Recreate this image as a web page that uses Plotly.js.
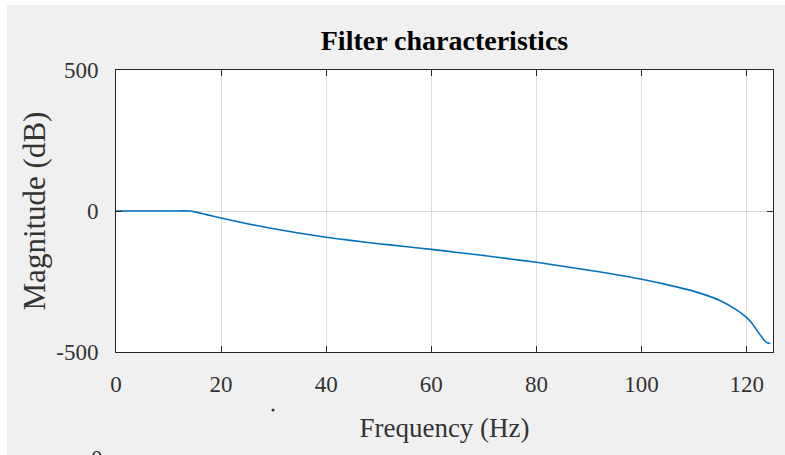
<!DOCTYPE html>
<html>
<head>
<meta charset="utf-8">
<script src="https://cdn.plot.ly/plotly-3.0.1.min.js"></script>
<style>html,body{margin:0;padding:0;background:#fff;overflow:hidden;}#chart{width:785px;height:455px;}</style>
</head>
<body>
<div id="chart"></div>
<script>
// Data
const freqHz = [0, 5, 10, 14, 15, 17, 20, 25, 30, 35, 40, 45, 50, 55, 60, 65, 70, 75, 80, 85, 90, 95, 100, 105, 110, 115, 118, 120, 121, 122, 123, 123.5, 124, 124.5];
const magnitudeDb = [0, 0, 0, 0, -3, -12, -25, -45, -63, -79, -93, -105, -116, -126, -136, -147, -158, -170, -182, -196, -210, -225, -242, -262, -285, -318, -350, -378, -398, -425, -450, -462, -468, -470];
const xTickVals = [0, 20, 40, 60, 80, 100, 120];
const xTickText = ['0', '20', '40', '60', '80', '100', '120'];
const yTickVals = [-500, 0, 500];
const yTickText = ['-500', '0', '500'];

const W = 785, H = 455, L = 116, R = 12, T = 70, B = 103;
const pw = W - L - R, ph = H - T - B;
const px = v => (v - L) / pw;      // pixel -> paper x
const py = v => (H - B - v) / ph;  // pixel -> paper y

const serif = 'Liberation Serif, Times New Roman, serif';

const trace = {
  x: freqHz, y: magnitudeDb, type: 'scatter', mode: 'lines',
  line: {color: '#0072BD', width: 1.6, shape: 'spline', smoothing: 0.6},
  hoverinfo: 'skip'
};

const axisCommon = {
  showline: true, linecolor: '#262626', linewidth: 1, mirror: 'ticks',
  ticks: 'inside', ticklen: 6, tickcolor: '#262626', tickwidth: 1,
  showgrid: true, gridcolor: '#dcdcdc', gridwidth: 1, zeroline: false,
  tickfont: {family: serif, size: 23, color: '#333333'}, fixedrange: true
};

const layout = {
  width: W, height: H,
  margin: {l: L, r: R, t: T, b: B, pad: 0},
  paper_bgcolor: '#f0f0f0', plot_bgcolor: '#ffffff',
  showlegend: false,
  title: {text: '<b>Filter characteristics</b>', font: {family: serif, size: 28, color: '#000000'},
          x: px(444.5), xref: 'paper', xanchor: 'center', y: 1 - 40 / H, yref: 'container', yanchor: 'middle'},
  xaxis: Object.assign({}, axisCommon, {
    range: [0, 125], tickmode: 'array', tickvals: xTickVals, ticktext: xTickText,
    ticklabelstandoff: 11,
    title: {text: 'Frequency (Hz)', font: {family: serif, size: 27, color: '#333333'}, standoff: 22}
  }),
  yaxis: Object.assign({}, axisCommon, {
    range: [-500, 500], tickmode: 'array', tickvals: yTickVals, ticktext: yTickText,
    ticklabelstandoff: 12,
    title: {text: 'Magnitude (dB)', font: {family: serif, size: 31, color: '#333333'}, standoff: 1}
  }),
  annotations: [
    {xref: 'paper', yref: 'paper', x: px(97), y: py(458), text: '0', showarrow: false,
     font: {family: serif, size: 23, color: '#333333'}, xanchor: 'center', yanchor: 'middle'}
  ],
  shapes: [
    {type: 'rect', xref: 'paper', yref: 'paper', x0: px(-2), x1: px(7), y0: py(H + 2), y1: py(-2), fillcolor: '#ffffff', line: {width: 0}, layer: 'below'},
    {type: 'rect', xref: 'paper', yref: 'paper', x0: px(-2), x1: px(W + 2), y0: py(5), y1: py(-2), fillcolor: '#ffffff', line: {width: 0}, layer: 'below'},
    {type: 'circle', xref: 'paper', yref: 'paper', x0: px(271.5), x1: px(274.5), y0: py(411.5), y1: py(408.5), fillcolor: '#333333', line: {width: 0}, layer: 'above'}
  ]
};

Plotly.newPlot('chart', [trace], layout, {displayModeBar: false, staticPlot: true});
</script>
</body>
</html>
